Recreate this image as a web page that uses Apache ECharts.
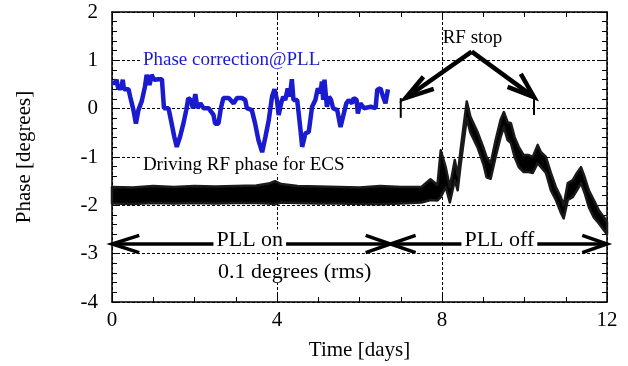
<!DOCTYPE html>
<html><head><meta charset="utf-8">
<script src="https://cdn.jsdelivr.net/npm/echarts@6/dist/echarts.min.js"></script>
<style>html,body{margin:0;padding:0;background:#fff}#c{width:628px;height:366px}</style>
</head><body><div id="c"></div>
<script>
// Phase correction @ PLL (blue)
const pllDays = [0.00,0.07,0.11,0.15,0.23,0.26,0.29,0.40,0.44,0.52,
  0.58,0.64,0.72,0.80,0.84,0.91,0.96,1.02,1.13,1.21,
  1.26,1.37,1.43,1.51,1.57,1.65,1.73,1.80,1.85,1.91,
  1.96,2.02,2.07,2.14,2.22,2.34,2.46,2.50,2.58,2.64,
  2.70,2.83,2.95,3.03,3.15,3.23,3.27,3.39,3.47,3.55,
  3.64,3.72,3.80,3.88,3.94,4.00,4.04,4.10,4.15,4.20,
  4.26,4.31,4.36,4.40,4.49,4.57,4.61,4.69,4.77,4.85,
  4.93,4.99,5.05,5.09,5.12,5.15,5.21,5.26,5.31,5.36,
  5.46,5.54,5.62,5.68,5.74,5.82,5.86,5.93,5.96,6.02,
  6.11,6.27,6.39,6.43,6.51,6.57,6.63,6.69];
const pllPhase = [0.53,0.53,0.60,0.42,0.42,0.60,0.40,0.40,0.25,-0.03,
  -0.31,-0.03,0.15,0.46,0.70,0.49,0.70,0.60,0.61,0.61,
  0.01,0.01,-0.24,-0.58,-0.79,-0.58,-0.31,-0.03,0.22,0.18,
  0.01,0.30,0.01,0.11,0.01,0.01,-0.13,-0.31,-0.31,0.01,
  0.22,0.22,0.11,0.22,0.22,0.18,0.01,-0.03,-0.31,-0.65,
  -0.90,-0.58,-0.24,0.25,0.40,0.18,-0.13,0.11,0.25,0.18,
  0.42,0.25,0.61,0.18,0.18,-0.44,-0.79,-0.51,-0.48,0.04,
  0.18,0.42,0.32,0.56,0.18,0.60,0.04,0.25,0.18,0.01,
  -0.03,-0.38,-0.10,0.11,0.18,0.11,0.22,0.18,-0.10,0.11,
  0.01,0.04,0.01,0.39,0.42,0.25,0.11,0.40];

// Driving RF phase for ECS (black noisy band: upper / lower envelope)
const rfDays = [0,0.5,1,1.5,2,2.5,3,3.5,3.8,3.95,
  4.1,4.5,5,5.5,6,6.5,7,7.5,7.72,7.89,
  7.97,8.09,8.19,8.31,8.38,8.45,8.6,8.69,8.87,9.01,
  9.08,9.18,9.3,9.42,9.5,9.59,9.67,9.76,9.86,9.98,
  10.1,10.2,10.32,10.4,10.52,10.64,10.76,10.88,10.95,11.05,
  11.17,11.27,11.37,11.46,11.56,11.68,11.8,11.93,12];
const rfHigh = [-1.62,-1.63,-1.60,-1.62,-1.60,-1.61,-1.60,-1.59,-1.55,-1.50,
  -1.56,-1.60,-1.61,-1.62,-1.63,-1.60,-1.62,-1.62,-1.46,-1.58,
  -0.86,-1.21,-1.62,-1.06,-1.38,-0.86,0.15,-0.17,-0.50,-0.82,
  -1.00,-1.13,-0.65,-0.23,-0.07,-0.28,-0.30,-0.59,-0.79,-0.96,
  -0.96,-1.00,-0.75,-0.90,-1.00,-1.33,-1.62,-1.83,-2.00,-1.54,
  -1.48,-1.33,-1.21,-1.42,-1.69,-1.89,-2.10,-2.25,-2.35];
const rfLow = [-1.96,-1.97,-1.95,-1.96,-1.95,-1.96,-1.95,-1.95,-1.96,-1.98,
  -1.94,-1.95,-1.96,-1.96,-1.97,-1.98,-1.96,-1.94,-1.89,-1.90,
  -1.83,-1.62,-1.94,-1.48,-1.69,-1.17,-0.20,-0.50,-0.82,-1.17,
  -1.42,-1.45,-1.00,-0.59,-0.38,-0.65,-0.71,-1.00,-1.21,-1.31,
  -1.31,-1.33,-1.13,-1.21,-1.33,-1.69,-1.89,-2.15,-2.27,-1.89,
  -1.83,-1.69,-1.54,-1.75,-2.04,-2.25,-2.37,-2.52,-2.60];

// RF stop markers (day, top, bottom)
const rfStopDays = [7.0, 10.23];
const rfStopTop = [0.22, 0.24];
const rfStopBottom = [-0.19, -0.13];

// Axis ticks
const xTickLabels = [0, 4, 8, 12];
const yTickLabels = [-4, -3, -2, -1, 0, 1, 2];

// Annotation arrows (polylines in data units)
const arrowPaths = [
  [[0, -2.8], [6.75, -2.8]],
  [[0.66, -2.62], [0, -2.8], [0.66, -2.98]],
  [[6.15, -2.62], [6.75, -2.8], [6.15, -2.98]],
  [[6.75, -2.8], [12, -2.8]],
  [[7.36, -2.62], [6.75, -2.8], [7.36, -2.98]],
  [[11.4, -2.62], [12, -2.8], [11.4, -2.98]]
];
const rfStopArrows = [
  [[8.72, 1.18], [7.12, 0.22]],
  [[7.55, 0.66], [7.12, 0.22], [7.80, 0.41]],
  [[8.72, 1.18], [10.23, 0.24]],
  [[9.59, 0.45], [10.23, 0.24], [9.91, 0.72]]
];

// Text annotations
const leftTexts = [
  [0.70, 1.00, 'Phase correction@PLL', '#1a1acf', 19],
  [0.70, -1.16, 'Driving RF phase for ECS', '#000', 19]
];
const centerTexts = [
  [8.74, 1.47, 'RF stop', 19, false],
  [3.34, -2.72, 'PLL on', 22, true],
  [9.39, -2.72, 'PLL off', 22, true],
  [4.43, -3.38, '0.1 degrees (rms)', 22, true]
];

const FONT = 'Liberation Serif';
const chart = echarts.init(document.getElementById('c'), null, {renderer: 'canvas'});

const gridLine = {show: true, lineStyle: {color: '#000', width: 1, type: [3, 2]}};
const axisLine = {show: true, onZero: false, lineStyle: {color: '#000', width: 1.5}};
const tickCommon = {show: true, inside: true, length: 8, lineStyle: {color: '#000', width: 1}};
const minorCommon = {show: true, length: 5, lineStyle: {color: '#000', width: 1}};

const option = {
  animation: false,
  backgroundColor: '#fff',
  grid: {left: 112, right: 21, top: 12, bottom: 64, containLabel: false},
  xAxis: [{
    type: 'value', min: xTickLabels[0], max: xTickLabels[xTickLabels.length - 1], interval: 4,
    position: 'bottom',
    name: 'Time [days]', nameLocation: 'middle', nameGap: 38,
    nameTextStyle: {fontFamily: FONT, fontSize: 21, color: '#000'},
    axisLine: axisLine, axisTick: tickCommon,
    minorTick: Object.assign({splitNumber: 4}, minorCommon),
    axisLabel: {fontFamily: FONT, fontSize: 21, color: '#000', margin: 8},
    splitLine: gridLine
  }, {
    type: 'value', min: 0, max: 12, interval: 4, position: 'top',
    axisLine: axisLine, axisTick: tickCommon,
    minorTick: Object.assign({splitNumber: 4}, minorCommon),
    axisLabel: {show: false}, splitLine: {show: false}
  }],
  yAxis: [{
    type: 'value', min: yTickLabels[0], max: yTickLabels[yTickLabels.length - 1], interval: 1,
    position: 'left',
    name: 'Phase [degrees]', nameLocation: 'middle', nameGap: 77, nameRotate: 90,
    nameTextStyle: {fontFamily: FONT, fontSize: 21, color: '#000'},
    axisLine: axisLine, axisTick: tickCommon,
    minorTick: Object.assign({splitNumber: 5}, minorCommon),
    axisLabel: {fontFamily: FONT, fontSize: 21, color: '#000', margin: 14},
    splitLine: gridLine
  }, {
    type: 'value', min: -4, max: 2, interval: 1, position: 'right',
    axisLine: axisLine, axisTick: tickCommon,
    minorTick: Object.assign({splitNumber: 5}, minorCommon),
    axisLabel: {show: false}, splitLine: {show: false}
  }],
  series: [
    {
      type: 'custom', name: 'rfBand', z: 3, silent: true,
      data: rfDays.map((d, i) => [d, rfHigh[i], rfLow[i]]),
      encode: {x: 0, y: [1, 2]},
      renderItem: function (params, api) {
        if (params.dataIndex !== 0) return null;
        const pts = [];
        for (let i = 0; i < rfDays.length; i++) pts.push(api.coord([rfDays[i], rfHigh[i]]));
        for (let i = rfDays.length - 1; i >= 0; i--) pts.push(api.coord([rfDays[i], rfLow[i]]));
        return {type: 'polygon', shape: {points: pts},
          style: {fill: '#000', stroke: '#1a1a1a', lineWidth: 2.5, lineJoin: 'round'}};
      }
    },
    {
      type: 'line', name: 'pll', symbol: 'none', z: 4,
      data: pllDays.map((d, i) => [d, pllPhase[i]]),
      lineStyle: {color: '#1a1acf', width: 4.5, join: 'bevel'}
    },
    {
      type: 'lines', coordinateSystem: 'cartesian2d', polyline: true, z: 5,
      data: rfStopDays.map((d, i) => ({coords: [[d, rfStopTop[i]], [d, rfStopBottom[i]]]})),
      lineStyle: {color: '#000', width: 2, opacity: 1}
    },
    {
      type: 'lines', coordinateSystem: 'cartesian2d', polyline: true, z: 6, clip: false,
      data: arrowPaths.map(p => ({coords: p})),
      lineStyle: {color: '#000', width: 3.5, opacity: 1, cap: 'butt', join: 'miter'}
    },
    {
      type: 'lines', coordinateSystem: 'cartesian2d', polyline: true, z: 6, clip: false,
      data: rfStopArrows.map(p => ({coords: p})),
      lineStyle: {color: '#000', width: 4.5, opacity: 1, cap: 'butt', join: 'miter'}
    },
    {
      type: 'scatter', symbolSize: 0, z: 10, silent: true, itemStyle: {opacity: 1},
      data: leftTexts.map(t => ({
        value: [t[0], t[1]], name: t[2],
        label: {show: true, position: 'right', distance: 0, formatter: '{b}',
          fontFamily: FONT, fontSize: t[4], color: t[3],
          backgroundColor: '#fff', padding: [0, 2, 0, 2]}
      }))
    },
    {
      type: 'scatter', symbolSize: 0, z: 10, silent: true, clip: false, itemStyle: {opacity: 1},
      data: centerTexts.map(t => ({
        value: [t[0], t[1]], name: t[2],
        label: {show: true, position: 'inside', formatter: '{b}',
          fontFamily: FONT, fontSize: t[3], color: '#000',
          backgroundColor: t[4] ? '#fff' : 'transparent', padding: [0, 3, 0, 3]}
      }))
    }
  ]
};
chart.setOption(option);
</script>
</body></html>
